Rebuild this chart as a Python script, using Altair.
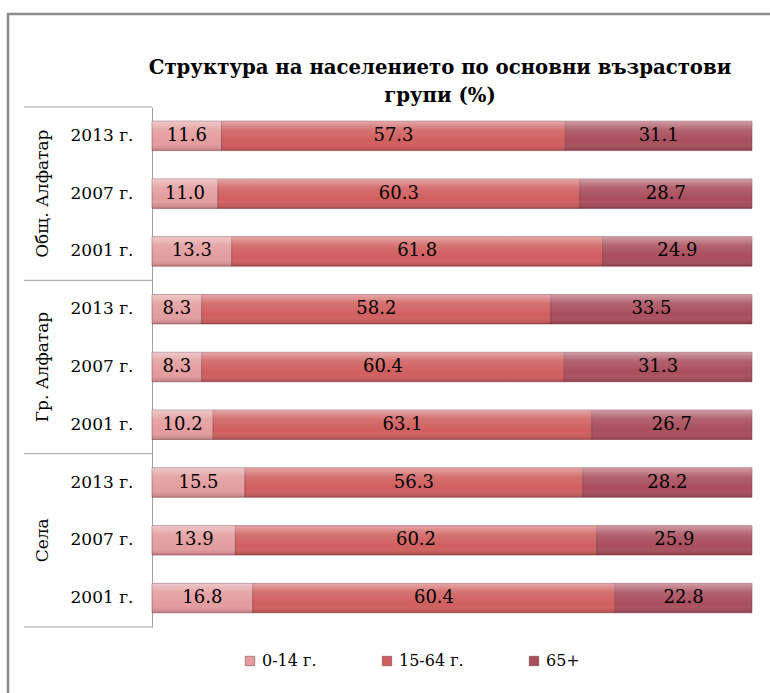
import altair as alt
import pandas as pd

groups = ["Общ. Алфатар"] * 3 + ["Гр. Алфатар"] * 3 + ["Села"] * 3
years = ["2013 г.", "2007 г.", "2001 г."] * 3
v_0_14 = [11.6, 11.0, 13.3, 8.3, 8.3, 10.2, 15.5, 13.9, 16.8]
v_15_64 = [57.3, 60.3, 61.8, 58.2, 60.4, 63.1, 56.3, 60.2, 60.4]
v_65 = [31.1, 28.7, 24.9, 33.5, 31.3, 26.7, 28.2, 25.9, 22.8]
series = ["0-14 г.", "15-64 г.", "65+"]
colors = ["#e39c9e", "#d05e5e", "#a84d5c"]
title_lines = ["Структура на населението по основни възрастови", "групи (%)"]
group_bounds = [0, 3, 6, 9]

keys = [f"{g}|{y}" for g, y in zip(groups, years)]
rows = []
for i, k in enumerate(keys):
    for j, (s, vals) in enumerate(zip(series, [v_0_14, v_15_64, v_65])):
        rows.append({"key": k, "group": groups[i], "year": years[i],
                     "series": s, "order": j, "value": vals[i]})
df = pd.DataFrame(rows)

W, H = 600, 520
FONT = "DejaVu Serif"

yscale = alt.Scale(domain=keys, paddingInner=0.49, paddingOuter=0.245)
xscale = alt.Scale(domain=[0, 100])

stacked = alt.Chart(df).transform_window(
    cum="sum(value)", groupby=["key"], sort=[alt.SortField("order")],
    frame=[None, 0]
).transform_calculate(
    mid="datum.cum - datum.value / 2",
    start="datum.cum - datum.value",
)

bars = alt.Chart(df).mark_bar(stroke="#6e2f38", strokeOpacity=0.45, strokeWidth=1).encode(
    y=alt.Y("key:N", scale=yscale, title=None, sort=keys,
            axis=alt.Axis(labelExpr="split(datum.value, '|')[1]", ticks=False,
                          labelPadding=19, labelFont=FONT, labelFontSize=17,
                          labelFontWeight="normal",
                          labelColor="#000000", domainColor="#a0a0a0",
                          domainWidth=1)),
    x=alt.X("value:Q", stack="zero", scale=xscale, axis=None),
    order=alt.Order("order:Q"),
    color=alt.Color("series:N", scale=alt.Scale(domain=series, range=colors),
                    legend=alt.Legend(orient="none", direction="horizontal",
                                      legendX=90, legendY=546, title=None,
                                      symbolType="square", symbolSize=90,
                                      symbolStrokeColor="#6a3a3a",
                                      symbolStrokeWidth=0.5,
                                      labelFont=FONT, labelFontSize=16,
                                      labelColor="#000000", columnPadding=62,
                                      labelOffset=4, padding=0)),
)

gloss = stacked.mark_bar(
    color=alt.LinearGradient(
        gradient="linear", x1=0, x2=0, y1=0, y2=1,
        stops=[alt.GradientStop(offset=0, color="rgba(255,255,255,0.45)"),
               alt.GradientStop(offset=0.3, color="rgba(255,255,255,0.12)"),
               alt.GradientStop(offset=0.7, color="rgba(255,255,255,0)"),
               alt.GradientStop(offset=1, color="rgba(60,0,10,0.22)")])
).encode(
    y=alt.Y("key:N", scale=yscale, sort=keys),
    x=alt.X("start:Q", scale=xscale),
    x2="cum:Q",
)

labels = stacked.mark_text(font=FONT, fontSize=18, color="#000000").encode(
    y=alt.Y("key:N", scale=yscale, sort=keys),
    x=alt.X("mid:Q", scale=xscale),
    text=alt.Text("value:Q", format=".1f"),
)

gdf = pd.DataFrame({"key": [keys[1], keys[4], keys[7]],
                    "group": [groups[1], groups[4], groups[7]]})
glabels = alt.Chart(gdf).mark_text(
    font=FONT, fontSize=17, color="#000000", angle=270
).encode(
    y=alt.Y("key:N", scale=yscale, sort=keys),
    x=alt.value(-109),
    text="group:N",
)

main = alt.layer(bars, gloss, labels, glabels)

seps = alt.Chart(pd.DataFrame({"b": group_bounds})).mark_rule(
    color="#a0a0a0", strokeWidth=1
).encode(
    y=alt.Y("b:Q", scale=alt.Scale(domain=[0, 9], reverse=True, nice=False), axis=None),
    x=alt.value(-128), x2=alt.value(0),
)

one = pd.DataFrame({"a": [0]})
frame = alt.Chart(one).mark_rect(
    fill="transparent", stroke="#8c8c8c", strokeWidth=2.5
).encode(x=alt.value(-144), x2=alt.value(640), y=alt.value(-93), y2=alt.value(620))

title1 = alt.Chart(one).mark_text(
    font=FONT, fontSize=19.7, fontWeight="bold", color="#000000", text=title_lines[0]
).encode(x=alt.value(288), y=alt.value(-39))
title2 = alt.Chart(one).mark_text(
    font=FONT, fontSize=19.7, fontWeight="bold", color="#000000", text=title_lines[1]
).encode(x=alt.value(288), y=alt.value(-11))

chart = alt.layer(
    main, seps, frame, title1, title2
).resolve_scale(y="independent").properties(
    width=W, height=H,
    autosize=alt.AutoSizeParams(type="none"),
    padding={"left": 152, "top": 107, "right": 18, "bottom": 66},
).configure_view(stroke=None)

chart.save("out.html", embed_options={"renderer": "svg", "actions": False})
